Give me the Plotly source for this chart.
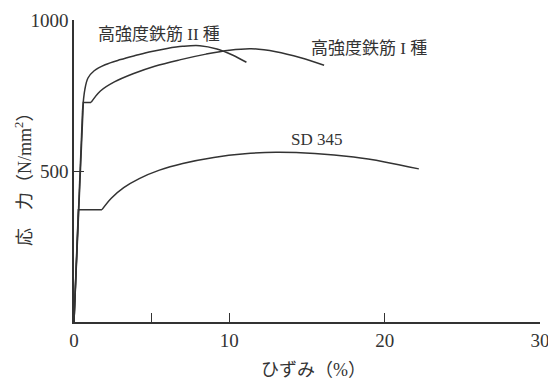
import plotly.graph_objects as go

# Stress-strain data (strain in %, stress in N/mm^2)
sd345_strain = [0, 0.28, 1.8, 2.4, 3.2, 4.2, 5.5, 7.0, 9.0, 11.0, 13.0, 15.5, 18.0, 20.0, 22.2]
sd345_stress = [0, 372, 372, 410, 445, 475, 503, 525, 545, 557, 562, 558, 546, 530, 507]
sd345_knee = 3  # points before this index are straight segments

grade1_strain = [0, 0.6, 1.1, 1.7, 2.6, 3.8, 5.2, 6.8, 8.5, 10.0, 11.4, 13.0, 14.6, 16.1]
grade1_stress = [0, 727, 727, 765, 795, 822, 847, 868, 887, 900, 905, 895, 875, 850]
grade1_knee = 3

grade2_strain = [0, 0.55, 0.7, 0.9, 1.3, 2.0, 3.0, 4.0, 5.0, 6.0, 7.0, 8.1, 9.2, 10.2, 11.1]
grade2_stress = [0, 700, 770, 808, 832, 852, 869, 883, 896, 906, 913, 915, 904, 884, 860]
grade2_knee = 2

x_ticks = [0, 10, 20, 30]
x_minor_ticks = [5]
y_ticks = [500, 1000]

curve_labels = [
    ("高強度鉄筋 II 種", 5.5, 953),
    ("高強度鉄筋 I 種", 19.0, 907),
    ("SD 345", 15.6, 603),
]

INK = "#333333"
SERIF = "Liberation Serif, Noto Sans CJK JP, serif"

fig = go.Figure()

for xs, ys, k in [
    (sd345_strain, sd345_stress, sd345_knee),
    (grade1_strain, grade1_stress, grade1_knee),
    (grade2_strain, grade2_stress, grade2_knee),
]:
    # elastic branch and yield plateau as straight segments
    fig.add_trace(go.Scatter(x=xs[:k], y=ys[:k], mode="lines",
                             line=dict(color=INK, width=1.5), hoverinfo="skip"))
    # strain-hardening branch as a smooth curve
    fig.add_trace(go.Scatter(x=xs[k - 1:], y=ys[k - 1:], mode="lines",
                             line=dict(color=INK, width=1.5, shape="spline", smoothing=1.0),
                             hoverinfo="skip"))

for text, x, y in curve_labels:
    fig.add_annotation(x=x, y=y, text=text, showarrow=False,
                       font=dict(family=SERIF, size=17, color=INK),
                       xanchor="center", yanchor="middle")

# axis titles
fig.add_annotation(x=0, y=0.487, xref="paper", yref="paper",
                   text="応　力（N/mm<sup>2</sup>）", textangle=-90, showarrow=False,
                   xanchor="center", yanchor="middle", xshift=-50,
                   font=dict(family=SERIF, size=18, color=INK))
fig.add_annotation(x=0.515, y=0, xref="paper", yref="paper",
                   text="ひずみ（%）", showarrow=False,
                   xanchor="center", yanchor="middle", yshift=-48,
                   font=dict(family=SERIF, size=18, color=INK))

fig.update_layout(
    width=548, height=380,
    margin=dict(l=74, r=8, t=20, b=58),
    paper_bgcolor="white", plot_bgcolor="white",
    showlegend=False,
    font=dict(family=SERIF, size=19, color=INK),
)
fig.update_xaxes(range=[0, 30], tickvals=x_ticks, automargin=False,
                 showgrid=False, zeroline=False, showline=True,
                 linecolor=INK, linewidth=1.5, ticks="inside", ticklen=9,
                 tickwidth=1.2, tickcolor=INK, ticklabeloverflow="allow",
                 minor=dict(tickvals=x_minor_ticks, ticks="inside", ticklen=9,
                            tickwidth=1.2, tickcolor=INK, showgrid=False))
fig.update_yaxes(range=[0, 1000], tickvals=y_ticks, automargin=False,
                 showgrid=False, zeroline=False, showline=True,
                 linecolor=INK, linewidth=1.5, ticks="inside", ticklen=10,
                 tickwidth=1.2, tickcolor=INK)

fig.write_html("out.html")
